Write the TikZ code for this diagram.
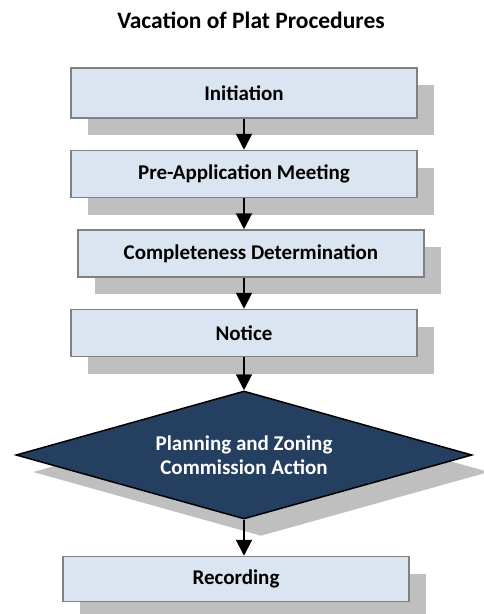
\documentclass[tikz,border=0pt]{standalone}
\usepackage{fontspec}
\setmainfont{Carlito}
\usepackage{xcolor}
\usetikzlibrary{arrows.meta,positioning,shapes.geometric,shadows}
\definecolor{boxfill}{HTML}{DBE5F1}
\definecolor{boxline}{HTML}{808080}
\definecolor{shade}{HTML}{BFBFBF}
\definecolor{navy}{HTML}{243F60}

\begin{document}
\begin{tikzpicture}[
    x=1pt, y=-1pt,
    node distance=31pt,
    stepbox/.style={draw=boxline, line width=1.5pt, fill=boxfill, minimum width=346pt,
                    minimum height=47pt, inner sep=0pt, font=\fontsize{21}{25}\selectfont\bfseries,
                    general shadow={fill=shade, shadow xshift=17pt, shadow yshift=-17pt}},
    decision/.style={diamond, aspect=3.5625, draw=black, line width=1.5pt, fill=navy, text=white,
                     minimum width=456pt, minimum height=128pt, inner sep=0pt, align=center,
                     font=\fontsize{21}{24}\selectfont\bfseries,
                     general shadow={fill=shade, shadow xshift=17pt, shadow yshift=-17pt}},
    arr/.style={-{Triangle[length=16pt, width=16pt]}, line width=2pt},
    heading/.style={font=\fontsize{23.5}{28}\selectfont\bfseries}
]
    \useasboundingbox (0,0) rectangle (483,614);

    \node[heading, anchor=base] (title) at (251,28) {Vacation of Plat Procedures};

    \node[stepbox, minimum height=50pt] (init) at (244,93) {Initiation};
    \node[stepbox, below=of init] (preapp) {Pre-Application Meeting};
    \node[stepbox, below=of preapp, xshift=7pt] (complete) {Completeness Determination};
    \node[stepbox, below=of complete, xshift=-7pt] (notice) {Notice};
    \node[decision, below=33pt of notice] (pz) {Planning and Zoning\\Commission Action};
    \node[stepbox, below=36pt of pz, xshift=-8pt, minimum height=45pt] (record) {Recording};

    \draw[arr] (init) -- (preapp);
    \draw[arr] (preapp.south) -- (preapp.south |- complete.north);
    \draw[arr] (notice.north |- complete.south) -- (notice.north);
    \draw[arr] (notice) -- (pz);
    \draw[arr] (pz.south) -- (pz.south |- record.north);
\end{tikzpicture}
\end{document}
